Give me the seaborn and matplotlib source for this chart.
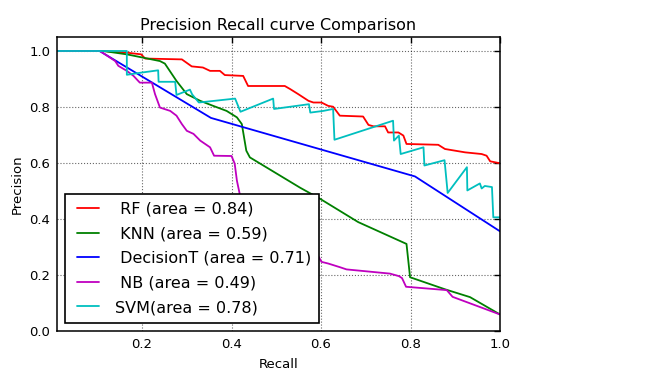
import matplotlib
matplotlib.use('Agg')
import matplotlib.pyplot as plt
from matplotlib.lines import Line2D
from matplotlib.legend_handler import HandlerLine2D
import seaborn as sns
import pandas as pd

# precision / recall points
rf_recall = [0.010, 0.113, 0.166, 0.198, 0.207, 0.289, 0.311, 0.336, 0.352, 0.374,
             0.385, 0.426, 0.437, 0.519, 0.531, 0.549, 0.572, 0.583, 0.601, 0.616,
             0.627, 0.642, 0.694, 0.706, 0.717, 0.743, 0.750, 0.773, 0.784, 0.791,
             0.862, 0.877, 0.922, 0.959, 0.970, 0.978, 1.000]
rf_precision = [1.000, 1.000, 0.994, 0.988, 0.973, 0.970, 0.945, 0.941, 0.929, 0.929,
                0.914, 0.911, 0.875, 0.875, 0.864, 0.846, 0.822, 0.816, 0.816, 0.804,
                0.801, 0.769, 0.766, 0.736, 0.731, 0.731, 0.709, 0.709, 0.698, 0.668,
                0.665, 0.650, 0.638, 0.632, 0.626, 0.606, 0.599]

knn_recall = [0.010, 0.113, 0.166, 0.203, 0.240, 0.251, 0.277, 0.300, 0.330, 0.359,
              0.389, 0.412, 0.423, 0.433, 0.441, 0.553, 0.598, 0.683, 0.791, 0.799,
              0.877, 0.933, 1.000]
knn_precision = [1.000, 1.000, 0.988, 0.976, 0.964, 0.955, 0.893, 0.846, 0.822, 0.804,
                 0.786, 0.763, 0.739, 0.644, 0.620, 0.512, 0.472, 0.389, 0.311, 0.192,
                 0.149, 0.121, 0.059]

dt_recall = [0.010, 0.105, 0.354, 0.810, 1.000]
dt_precision = [1.000, 1.000, 0.761, 0.552, 0.356]

nb_recall = [0.010, 0.106, 0.140, 0.147, 0.166, 0.181, 0.195, 0.222, 0.229, 0.240,
             0.263, 0.277, 0.289, 0.300, 0.315, 0.330, 0.352, 0.361, 0.400, 0.407,
             0.412, 0.419, 0.428, 0.486, 0.553, 0.589, 0.601, 0.616, 0.642, 0.657,
             0.754, 0.774, 0.781, 0.790, 0.881, 0.894, 1.000]
nb_precision = [1.000, 1.000, 0.964, 0.947, 0.929, 0.911, 0.887, 0.887, 0.846, 0.798,
                0.786, 0.769, 0.739, 0.715, 0.704, 0.680, 0.656, 0.626, 0.625, 0.598,
                0.537, 0.484, 0.324, 0.302, 0.288, 0.281, 0.247, 0.241, 0.228, 0.220,
                0.205, 0.196, 0.189, 0.158, 0.146, 0.122, 0.059]

svm_recall = [0.010, 0.166, 0.166, 0.195, 0.236, 0.237, 0.274, 0.277, 0.307, 0.312,
              0.327, 0.408, 0.420, 0.493, 0.495, 0.573, 0.576, 0.605, 0.627, 0.630,
              0.761, 0.763, 0.774, 0.778, 0.829, 0.831, 0.876, 0.883, 0.926, 0.927,
              0.955, 0.959, 0.966, 0.982, 0.985, 1.000]
svm_precision = [1.000, 1.000, 0.915, 0.922, 0.931, 0.890, 0.890, 0.843, 0.862, 0.845,
                 0.816, 0.830, 0.783, 0.830, 0.793, 0.810, 0.780, 0.786, 0.793, 0.683,
                 0.751, 0.680, 0.698, 0.632, 0.656, 0.591, 0.610, 0.493, 0.585, 0.502,
                 0.527, 0.509, 0.518, 0.514, 0.406, 0.406]

models = ['RF', 'KNN', 'DecisionT', 'NB', 'SVM']
labels = [' RF (area = 0.84)', ' KNN (area = 0.59)', ' DecisionT (area = 0.71)',
          ' NB (area = 0.49)', 'SVM(area = 0.78)']
colors = ['#ff0000', '#008000', '#0000ff', '#bf00bf', '#00bfbf']

curves = [(rf_recall, rf_precision), (knn_recall, knn_precision), (dt_recall, dt_precision),
          (nb_recall, nb_precision), (svm_recall, svm_precision)]
frames = []
for name, (r, p) in zip(models, curves):
    frames.append(pd.DataFrame({'recall': r, 'precision': p, 'model': name}))
df = pd.concat(frames, ignore_index=True)

sns.set_theme(style='white')
plt.rcParams['font.family'] = ['DejaVu Sans']
plt.rcParams['text.color'] = 'black'
plt.rcParams['axes.labelcolor'] = 'black'

fig = plt.figure(figsize=(6.6, 3.71), dpi=100)
ax = fig.add_axes([0.0864, 0.1078, 0.6712, 0.7925])

sns.lineplot(data=df, x='recall', y='precision', hue='model', hue_order=models,
             palette=dict(zip(models, colors)), sort=False, estimator=None,
             linewidth=1.3, legend=False, ax=ax)

ax.set_xlim(0.01, 1.0)
ax.set_ylim(0.0, 1.05)
ax.set_xticks([0.2, 0.4, 0.6, 0.8, 1.0])
ax.set_yticks([0.0, 0.2, 0.4, 0.6, 0.8, 1.0])
ax.set_xticklabels(['0.2', '0.4', '0.6', '0.8', '1.0'])
ax.set_yticklabels(['0.0', '0.2', '0.4', '0.6', '0.8', '1.0'])
ax.tick_params(direction='in', top=True, right=True, length=4, width=1,
               labelsize=9.5, colors='black', pad=5)
ax.grid(True, color='black', linestyle=':', linewidth=0.8, alpha=0.6)
for s in ax.spines.values():
    s.set_color('black')
    s.set_linewidth(1.1)

ax.set_title('Precision Recall curve Comparison', fontsize=11.5, pad=5, color='black')
ax.set_xlabel('Recall', fontsize=9.5, labelpad=5)
ax.set_ylabel('Precision', fontsize=9.5, labelpad=4)

handles = [Line2D([], [], color=c, linewidth=1.3) for c in colors]
leg = ax.legend(handles, labels, loc='lower left', bbox_to_anchor=(0.018, 0.027),
                borderaxespad=0, fontsize=11.5, handlelength=1.625, handletextpad=1.0,
                labelspacing=0.6, borderpad=0.5, fancybox=False, framealpha=1,
                handler_map={Line2D: HandlerLine2D(xpad=0.25)})
leg.get_frame().set_edgecolor('black')
leg.get_frame().set_linewidth(1.2)

fig.savefig('out.png', dpi=100, facecolor='white')
